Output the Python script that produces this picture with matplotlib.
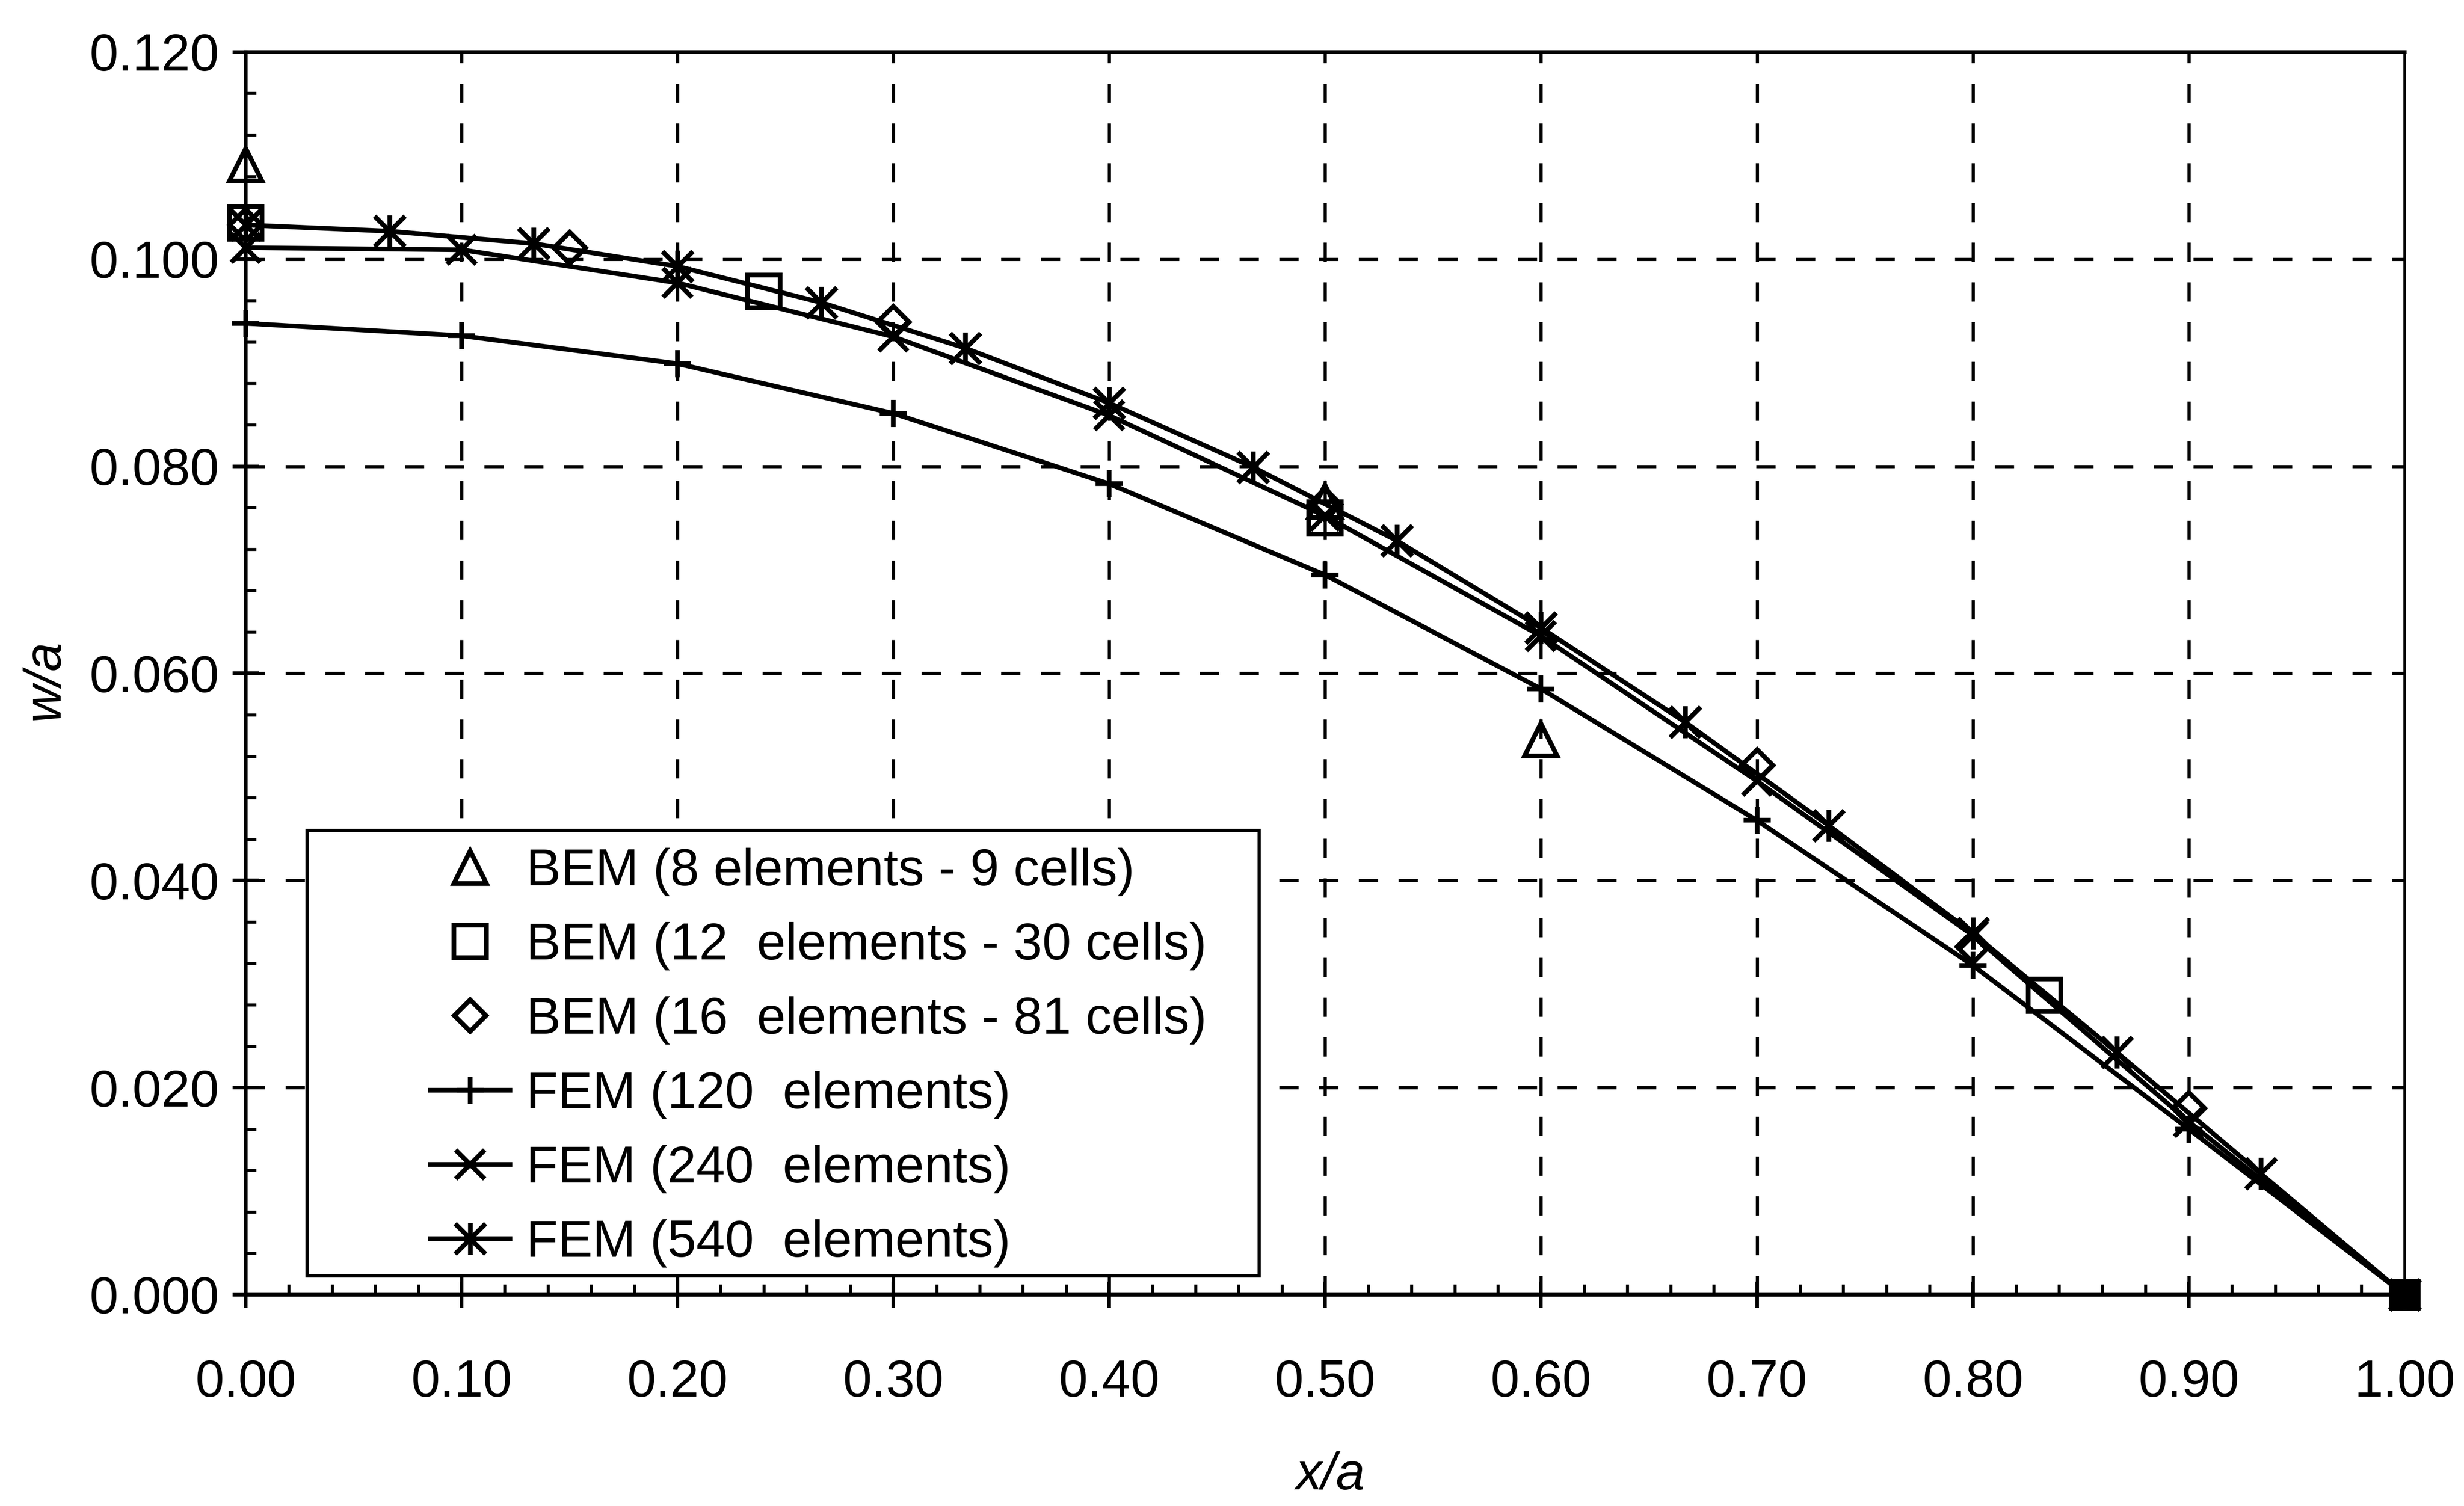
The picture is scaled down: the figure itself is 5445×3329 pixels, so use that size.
import numpy as np
import matplotlib
matplotlib.use('Agg')
from matplotlib import pyplot as plt
from matplotlib.path import Path
from matplotlib.patches import Rectangle
from matplotlib.ticker import MultipleLocator, FormatStrFormatter

plt.rcParams['font.family'] = ['Liberation Sans', 'DejaVu Sans']

# centreline deflection w/a against x/a
x_bem8 = [0.0, 0.5, 0.6]
w_bem8 = [0.1091, 0.0766, 0.0536]

x_bem12 = [0.0, 0.24, 0.5, 0.8333]
w_bem12 = [0.1035, 0.0969, 0.0750, 0.0289]

x_bem16 = [0.0, 0.15, 0.3, 0.5, 0.7, 0.8, 0.9]
w_bem16 = [0.1033, 0.1011, 0.0939, 0.0763, 0.0511, 0.0336, 0.0180]

x_fem120 = [0.0, 0.1, 0.2, 0.3, 0.4, 0.5, 0.6, 0.7, 0.8, 0.9, 1.0]
w_fem120 = [0.0938, 0.0926, 0.0899, 0.0851, 0.0783, 0.0695, 0.0585, 0.0458, 0.0318, 0.0160, 0.0]

x_fem240 = [0.0, 0.1, 0.2, 0.3, 0.4, 0.5, 0.6, 0.7, 0.8, 0.9, 1.0]
w_fem240 = [0.1011, 0.1009, 0.0977, 0.0925, 0.0849, 0.0752, 0.0636, 0.0496, 0.0347, 0.0167, 0.0]

x_fem540 = [0.0, 0.0667, 0.1333, 0.2, 0.2667, 0.3333, 0.4, 0.4667, 0.5333, 0.6,
            0.6667, 0.7333, 0.8, 0.8667, 0.9333, 1.0]
w_fem540 = [0.1033, 0.1027, 0.1015, 0.0993, 0.0958, 0.0914, 0.0861, 0.0799, 0.0728, 0.0644,
            0.0553, 0.0453, 0.0349, 0.0234, 0.0117, 0.0]

# clamped edge point
x_edge = [1.0]
w_edge = [0.0]

labels = ['BEM (8 elements - 9 cells)',
          'BEM (12  elements - 30 cells)',
          'BEM (16  elements - 81 cells)',
          'FEM (120  elements)',
          'FEM (240  elements)',
          'FEM (540  elements)']

x_ticks = [0.0, 0.1, 0.2, 0.3, 0.4, 0.5, 0.6, 0.7, 0.8, 0.9, 1.0]
y_ticks = [0.0, 0.02, 0.04, 0.06, 0.08, 0.10, 0.12]

# six-armed asterisk: vertical bar plus a cross
asterisk = Path([(0, -1), (0, 1), (-0.95, -0.95), (0.95, 0.95), (-0.95, 0.95), (0.95, -0.95)],
                [Path.MOVETO, Path.LINETO] * 3)

FS = 27.5
LW = 2.5

fig = plt.figure(figsize=(18.15, 11.0967), dpi=300)
ax = fig.add_axes([0.0997, 0.1403, 0.8762, 0.8252])

ax.set_xlim(0, 1.0)
ax.set_ylim(0, 0.12)

# dashed grid on the interior ticks only
for xv in x_ticks[1:-1]:
    ax.axvline(xv, color='black', lw=1.7, ls=(0, (6, 6.4)), zorder=0.5)
for yv in y_ticks[1:-1]:
    ax.axhline(yv, color='black', lw=1.7, ls=(0, (6, 6.4)), zorder=0.5)

mk = dict(color='black', mfc='none', clip_on=False)
ax.plot(x_bem8, w_bem8, ls='none', marker='^', ms=17.3, mew=LW, label=labels[0], zorder=3, **mk)
ax.plot(x_bem12, w_bem12, ls='none', marker='s', ms=17.3, mew=LW, label=labels[1], zorder=3, **mk)
ax.plot(x_bem16, w_bem16, ls='none', marker='D', ms=12, mew=LW, label=labels[2], zorder=3, **mk)
ax.plot(x_fem120, w_fem120, lw=LW, marker='+', ms=14.4, mew=LW, label=labels[3], zorder=2, **mk)
ax.plot(x_fem240, w_fem240, lw=LW, marker='x', ms=15.5, mew=LW, label=labels[4], zorder=2, **mk)
ax.plot(x_fem540, w_fem540, lw=LW, marker=asterisk, ms=17, mew=LW, label=labels[5], zorder=2, **mk)
ax.plot(x_edge, w_edge, ls='none', marker='s', ms=16, color='black', clip_on=False, zorder=4)

# spines: solid left/bottom, dotted top, thin right
for side in ['left', 'bottom']:
    ax.spines[side].set_linewidth(2.0)
ax.spines['top'].set_linewidth(2.0)
ax.spines['top'].set_linestyle((0, (1, 1)))
ax.spines['right'].set_linewidth(1.4)

ax.xaxis.set_major_locator(MultipleLocator(0.1))
ax.xaxis.set_minor_locator(MultipleLocator(0.02))
ax.yaxis.set_major_locator(MultipleLocator(0.02))
ax.yaxis.set_minor_locator(MultipleLocator(0.004))
ax.xaxis.set_major_formatter(FormatStrFormatter('%.2f'))
ax.yaxis.set_major_formatter(FormatStrFormatter('%.3f'))

ax.tick_params(which='major', direction='inout', length=14, width=1.9, labelsize=FS)
ax.tick_params(which='minor', direction='in', length=5.5, width=1.6)
ax.tick_params(axis='x', which='major', pad=27)
ax.tick_params(axis='y', which='major', pad=7)

ax.set_xlabel('x/a', fontsize=FS, style='italic')
ax.set_ylabel('w/a', fontsize=FS, style='italic')
ax.xaxis.set_label_coords(0.5024, -0.1456)
ax.yaxis.set_label_coords(-0.0929, 0.4947)
ax.xaxis.label.set_va('center')
ax.yaxis.label.set_va('center')

# legend box drawn by hand, entries placed inside it
ax.add_patch(Rectangle((0.0283, 0.0153), 0.4410, 0.3586, transform=ax.transAxes,
                       facecolor='white', edgecolor='black', lw=1.7, zorder=4.5))
ax.legend(loc='upper left', bbox_to_anchor=(0.0855, 0.3597), frameon=False,
          borderpad=0, borderaxespad=0, handlelength=1.54, handletextpad=0.31,
          labelspacing=0.5, fontsize=FS)

fig.savefig('out.png', dpi=300, facecolor='white')
